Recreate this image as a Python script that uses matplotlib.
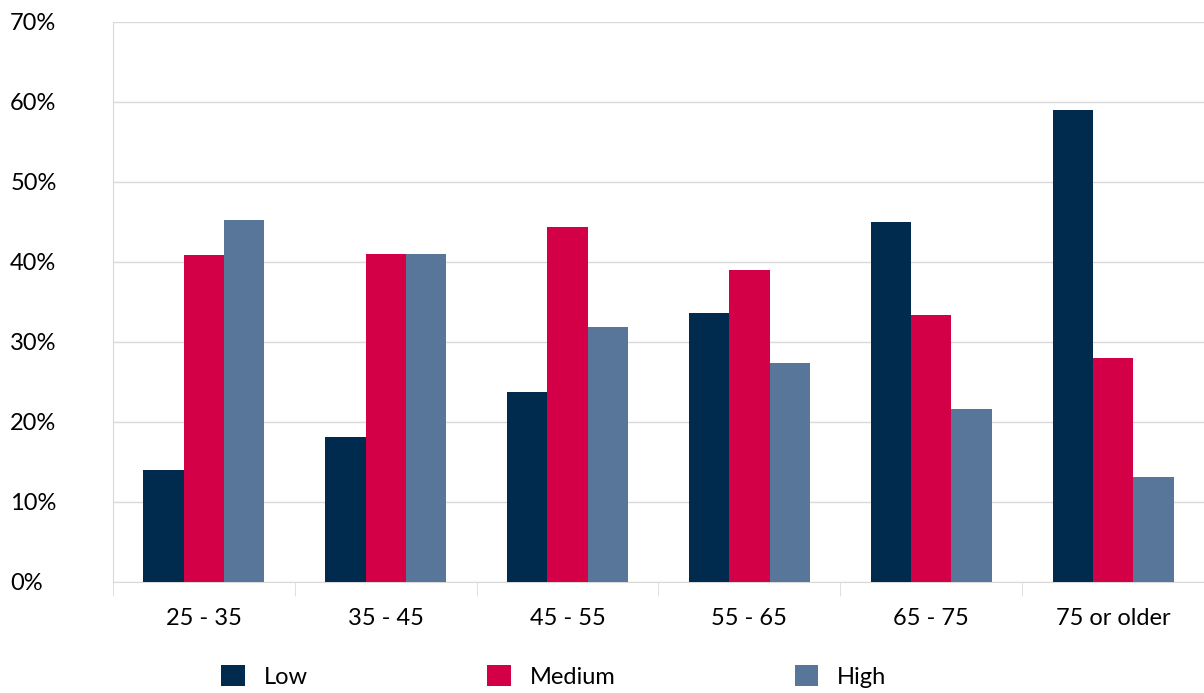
import numpy as np
import matplotlib.pyplot as plt

plt.rcParams['font.family'] = ['Lato', 'DejaVu Sans']

groups = ['25 - 35', '35 - 45', '45 - 55', '55 - 65', '65 - 75', '75 or older']
low = [14.0, 18.1, 23.8, 33.6, 45.0, 59.0]
medium = [40.9, 41.0, 44.4, 39.0, 33.4, 28.0]
high = [45.2, 41.0, 31.9, 27.4, 21.6, 13.1]

colors = ['#002b4e', '#d40047', '#58769a']

fig = plt.figure(figsize=(12.04, 6.93), dpi=100)
ax = fig.add_axes([113 / 1204, 1 - 582 / 693, (1204 - 113) / 1204, 560 / 693])

x = np.arange(len(groups))
w = 0.222
for i, (vals, lab) in enumerate(zip([low, medium, high], ['Low', 'Medium', 'High'])):
    ax.bar(x + (i - 1) * w, vals, w, color=colors[i], label=lab, zorder=3)

ax.set_xlim(-0.5, len(groups) - 0.5)
ax.set_ylim(0, 70)
ax.set_yticks(range(0, 71, 10))
ax.set_yticklabels([f'{v}%' for v in range(0, 71, 10)])
ax.yaxis.grid(True, color='#d9d9d9', linewidth=1, zorder=0)
ax.tick_params(axis='y', length=0, labelsize=17, pad=74)
for t in ax.get_yticklabels():
    t.set_horizontalalignment('left')

ax.set_xticks(x)
ax.set_xticklabels(groups)
ax.tick_params(axis='x', length=0, labelsize=17, pad=19)
ax.set_xticks(np.arange(-0.5, len(groups), 1), minor=True)
ax.tick_params(axis='x', which='minor', length=10, color='#d9d9d9')

for s in ['top', 'right']:
    ax.spines[s].set_visible(False)
ax.spines['left'].set_color('#d9d9d9')
ax.spines['bottom'].set_color('#d9d9d9')

ax.legend(loc='upper center', bbox_to_anchor=(0.404, -0.11), ncol=3, frameon=False,
          fontsize=17, handlelength=1, handleheight=1, columnspacing=7.6, handletextpad=0.8)

plt.savefig('out.png', dpi=100)
